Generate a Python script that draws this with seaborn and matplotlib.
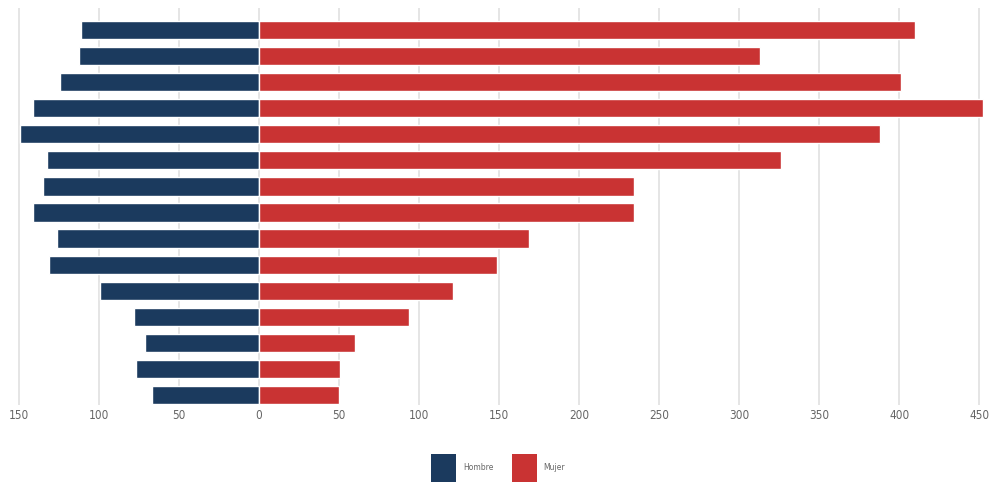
import matplotlib
matplotlib.use("Agg")
import matplotlib.pyplot as plt
from matplotlib.patches import Patch
import seaborn as sns
import pandas as pd
import numpy as np

grupos = [str(i) for i in range(1, 16)]
hombre = [111, 112, 124, 141, 149, 132, 135, 141, 126, 131, 99, 78, 71, 77, 67]
mujer = [410, 313, 401, 452, 388, 326, 234, 234, 169, 149, 121, 94, 60, 51, 50]
xticks = [-150, -100, -50, 0, 50, 100, 150, 200, 250, 300, 350, 400, 450]

azul = "#1b3a5e"
rojo = "#c93333"

sns.set_theme(style="white")
plt.rcParams["font.family"] = ["DejaVu Sans"]

df = pd.DataFrame({"grupo": grupos, "Hombre": [-v for v in hombre], "Mujer": mujer})

fig = plt.figure(figsize=(9.91, 4.84), dpi=100)
ax = fig.add_axes([9 / 991, 1 - 405 / 484, 980 / 991, (405 - 8) / 484])

sns.barplot(data=df, x="Hombre", y="grupo", orient="h", color=azul, width=0.7,
            saturation=1, ax=ax, zorder=3)
sns.barplot(data=df, x="Mujer", y="grupo", orient="h", color=rojo, width=0.7,
            saturation=1, ax=ax, zorder=3)

ax.set_xlim(-156, 456)
ax.set_ylim(14.38, -0.84)
ax.set_xticks(xticks)
ax.set_xticklabels([str(abs(t)) for t in xticks], fontsize=8.5, color="#666666",
                   fontstretch="condensed")
ax.set_yticks([])
ax.set_xlabel("")
ax.set_ylabel("")
ax.tick_params(axis="x", length=0, pad=3)
ax.grid(axis="x", color="#e3e3e3", linewidth=1.3, zorder=0)
ax.set_axisbelow(True)
for s in ax.spines.values():
    s.set_visible(False)

handles = [Patch(facecolor=azul, edgecolor="none", label="Hombre"),
           Patch(facecolor=rojo, edgecolor="none", label="Mujer")]
fig.legend(handles=handles, loc="center", bbox_to_anchor=(498 / 991, 1 - 468 / 484),
           ncol=2, frameon=False, fontsize=5.5, handlelength=3.3, handleheight=5.4,
           handletextpad=0.9, columnspacing=2.4, labelcolor="#666666")

fig.savefig("out.png", dpi=100)
